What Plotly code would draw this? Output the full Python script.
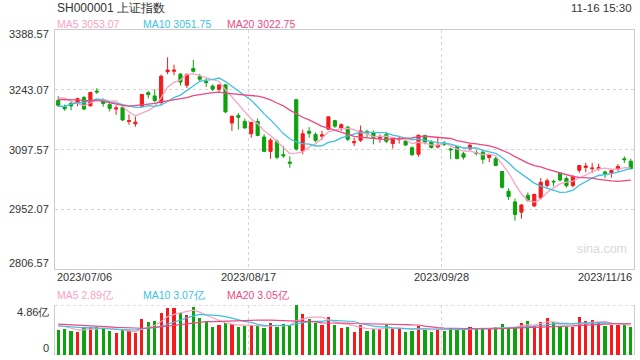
import plotly.graph_objects as go
import pandas as pd

# ---------------- data ----------------
dates = [
    "2023/07/06", "2023/07/07", "2023/07/10", "2023/07/11", "2023/07/12", "2023/07/13", "2023/07/14",
    "2023/07/17", "2023/07/18", "2023/07/19", "2023/07/20", "2023/07/21", "2023/07/24", "2023/07/25",
    "2023/07/26", "2023/07/27", "2023/07/28", "2023/07/31", "2023/08/01", "2023/08/02", "2023/08/03",
    "2023/08/04", "2023/08/07", "2023/08/08", "2023/08/09", "2023/08/10", "2023/08/11", "2023/08/14",
    "2023/08/15", "2023/08/16", "2023/08/17", "2023/08/18", "2023/08/21", "2023/08/22", "2023/08/23",
    "2023/08/24", "2023/08/25", "2023/08/28", "2023/08/29", "2023/08/30", "2023/08/31", "2023/09/01",
    "2023/09/04", "2023/09/05", "2023/09/06", "2023/09/07", "2023/09/08", "2023/09/11", "2023/09/12",
    "2023/09/13", "2023/09/14", "2023/09/15", "2023/09/18", "2023/09/19", "2023/09/20", "2023/09/21",
    "2023/09/22", "2023/09/25", "2023/09/26", "2023/09/27", "2023/09/28", "2023/10/09", "2023/10/10",
    "2023/10/11", "2023/10/12", "2023/10/13", "2023/10/16", "2023/10/17", "2023/10/18", "2023/10/19",
    "2023/10/20", "2023/10/23", "2023/10/24", "2023/10/25", "2023/10/26", "2023/10/27", "2023/10/30",
    "2023/10/31", "2023/11/01", "2023/11/02", "2023/11/03", "2023/11/06", "2023/11/07", "2023/11/08",
    "2023/11/09", "2023/11/10", "2023/11/13", "2023/11/14", "2023/11/15", "2023/11/16",
]

opens = [
    3217, 3202, 3210, 3210, 3224, 3204, 3240, 3217, 3207, 3196,
    3200, 3166, 3160, 3203, 3236, 3228, 3212, 3287, 3288, 3281,
    3254, 3295, 3275, 3263, 3252, 3244, 3255, 3162, 3180, 3166,
    3136, 3166, 3128, 3093, 3117, 3085, 3067, 3219, 3094, 3142,
    3134, 3130, 3147, 3168, 3150, 3152, 3114, 3120, 3141, 3138,
    3125, 3134, 3112, 3122, 3118, 3102, 3086, 3132, 3116, 3104,
    3114, 3099, 3105, 3087, 3099, 3090, 3091, 3078, 3075, 3044,
    2996, 2970, 2945, 2986, 2960, 2980, 3010, 3020, 3040, 3027,
    3010, 3047, 3054, 3051, 3051, 3043, 3041, 3049, 3075, 3069,
]
highs = [
    3228, 3207, 3215, 3224, 3228, 3238, 3247, 3222, 3212, 3205,
    3205, 3183, 3178, 3233, 3240, 3244, 3280, 3322, 3304, 3284,
    3283, 3316, 3282, 3271, 3256, 3256, 3256, 3180, 3186, 3173,
    3165, 3173, 3135, 3125, 3122, 3106, 3081, 3220, 3146, 3152,
    3139, 3143, 3178, 3170, 3161, 3155, 3126, 3156, 3146, 3144,
    3134, 3140, 3128, 3130, 3122, 3105, 3133, 3133, 3120, 3126,
    3118, 3102, 3106, 3092, 3112, 3096, 3095, 3085, 3080, 3045,
    3003, 2978, 2965, 2993, 2990, 3028, 3027, 3024, 3042, 3032,
    3036, 3060, 3065, 3065, 3063, 3046, 3048, 3062, 3081, 3075,
]
lows = [
    3201, 3192, 3193, 3203, 3193, 3202, 3233, 3202, 3190, 3182,
    3167, 3158, 3153, 3200, 3222, 3212, 3205, 3281, 3279, 3253,
    3247, 3285, 3262, 3250, 3240, 3235, 3186, 3143, 3146, 3148,
    3126, 3130, 3091, 3075, 3074, 3077, 3053, 3095, 3086, 3126,
    3115, 3121, 3145, 3150, 3143, 3118, 3106, 3116, 3126, 3110,
    3114, 3113, 3100, 3112, 3106, 3082, 3080, 3110, 3100, 3100,
    3106, 3074, 3074, 3073, 3097, 3083, 3063, 3067, 3057, 3003,
    2975, 2924, 2929, 2970, 2958, 2977, 3005, 3008, 3020, 3005,
    3005, 3041, 3042, 3040, 3046, 3028, 3029, 3044, 3065, 3049,
]
closes = [
    3205.23, 3196.61, 3203.70, 3221.37, 3196.13, 3236.48, 3237.70, 3209.63, 3197.82, 3198.84,
    3169.52, 3167.75, 3164.16, 3231.52, 3231.29, 3216.67, 3275.93, 3291.04, 3290.95, 3261.69,
    3280.46, 3288.08, 3268.83, 3260.62, 3244.49, 3254.56, 3189.25, 3178.43, 3176.18, 3150.13,
    3163.74, 3131.95, 3092.98, 3120.33, 3078.40, 3082.24, 3064.07, 3098.64, 3135.89, 3137.14,
    3119.88, 3133.25, 3177.06, 3154.37, 3158.08, 3122.35, 3116.72, 3142.78, 3137.06, 3126.30,
    3126.55, 3117.74, 3125.93, 3124.25, 3108.57, 3084.70, 3132.43, 3115.61, 3102.27, 3107.32,
    3110.48, 3096.92, 3075.24, 3078.96, 3107.90, 3088.10, 3073.81, 3083.50, 3058.71, 3005.39,
    2983.06, 2939.29, 2962.24, 2974.11, 2988.30, 3017.78, 3021.55, 3018.77, 3023.08, 3009.41,
    3030.80, 3058.41, 3057.27, 3052.37, 3053.28, 3038.97, 3046.53, 3056.07, 3072.83, 3050.93,
]
# volume, in 亿
volumes = [
    2.43, 2.53, 2.33, 2.24, 2.72, 2.72, 2.72, 2.53, 2.33, 2.14,
    2.43, 2.33, 2.14, 3.50, 3.21, 3.30, 4.08, 4.57, 4.57, 4.08,
    3.89, 4.67, 3.60, 3.21, 2.72, 2.92, 3.11, 3.01, 2.72, 2.82,
    2.92, 2.82, 2.62, 3.11, 2.72, 3.01, 2.92, 4.86, 3.98, 3.50,
    3.11, 2.92, 3.69, 2.92, 2.62, 2.72, 2.24, 2.92, 2.33, 2.53,
    2.53, 2.92, 2.62, 2.53, 2.24, 2.33, 2.82, 2.53, 2.24, 2.53,
    2.33, 2.62, 2.53, 2.53, 2.72, 2.53, 2.62, 2.53, 2.72, 3.01,
    2.62, 2.72, 3.11, 3.30, 2.82, 3.21, 3.60, 3.21, 2.82, 2.72,
    2.72, 3.69, 3.30, 3.40, 3.11, 2.82, 2.92, 2.92, 3.01, 2.72,
]
# 19 sessions before the window (needed for the moving averages)
prior_closes = [
    3197.76, 3213.59, 3231.41, 3228.83, 3233.67, 3228.99, 3252.98, 3273.33, 3255.81, 3240.36,
    3197.90, 3150.62, 3189.38, 3189.44, 3182.38, 3202.06, 3243.98, 3245.35, 3222.95,
]
prior_volumes = [
    3.10, 3.30, 3.00, 2.80, 3.20, 3.00, 3.40, 3.60, 3.20, 3.00,
    3.10, 3.20, 2.80, 2.70, 2.60, 2.70, 3.20, 3.00, 2.70,
]

price_ticks = [2806.57, 2952.07, 3097.57, 3243.07, 3388.57]
vol_ticks = [0, 4.86]
vol_tick_text = ["0", "4.86亿"]
date_ticks = ["2023/07/06", "2023/08/17", "2023/09/28", "2023/11/16"]
ma_periods = [5, 10, 20]
price_ma_text = ["MA5 3053.07", "MA10 3051.75", "MA20 3022.75"]
vol_ma_text = ["MA5 2.89亿", "MA10 3.07亿", "MA20 3.05亿"]
title_text = "SH000001 上证指数"
time_text = "11-16 15:30"
watermark = "sina.com"

# ---------------- style ----------------
W, H = 640, 360
L, R = 55, 634
MAIN_TOP, MAIN_BOT = 30, 269
VOL_TOP, VOL_BOT = 305, 355
RED = "#f31b1b"
GREEN = "#0ea20e"
MA_COLORS = ["#f8a3c3", "#3cc2e2", "#ec4a83"]
FONT = "Liberation Sans, Arial, Helvetica, sans-serif"
TXT = "#333333"
BORDER = "#cccccc"
GRID = "#d4d4d4"

def px(xp):
    return xp / W

def py(yp):
    return 1 - yp / H

n = len(closes)
xs = list(range(n))

fig = go.Figure()

fig.add_trace(go.Candlestick(
    x=xs, open=opens, high=highs, low=lows, close=closes,
    increasing=dict(line=dict(color=RED, width=1), fillcolor=RED),
    decreasing=dict(line=dict(color=GREEN, width=1), fillcolor=GREEN),
    whiskerwidth=0, xaxis="x", yaxis="y", hoverinfo="skip", showlegend=False,
))

all_closes = pd.Series(prior_closes + closes)
for p, c in zip(ma_periods, MA_COLORS):
    ma = all_closes.rolling(p).mean().iloc[len(prior_closes):].tolist()
    fig.add_trace(go.Scatter(x=xs, y=ma, mode="lines", line=dict(color=c, width=1.3),
                             xaxis="x", yaxis="y", hoverinfo="skip", showlegend=False))

bar_colors = [RED if c > o else GREEN for o, c in zip(opens, closes)]
fig.add_trace(go.Bar(x=xs, y=volumes, marker=dict(color=bar_colors, line=dict(width=0)),
                     width=0.5, xaxis="x2", yaxis="y2", hoverinfo="skip", showlegend=False))

all_vol = pd.Series(prior_volumes + volumes)
for p, c in zip(ma_periods, MA_COLORS):
    ma = all_vol.rolling(p).mean().iloc[len(prior_volumes):].tolist()
    fig.add_trace(go.Scatter(x=xs, y=ma, mode="lines", line=dict(color=c, width=1.2),
                             xaxis="x2", yaxis="y2", hoverinfo="skip", showlegend=False))

xr = [-0.5, n - 0.5]
sep_idx = [dates.index(d) - 0.5 for d in date_ticks[1:3]]

common_x = dict(range=xr, tickvals=sep_idx, showticklabels=False, ticks="",
                showgrid=True, gridcolor=GRID, griddash="dot", gridwidth=1,
                zeroline=False, fixedrange=True, domain=[px(L), px(R)])

fig.update_layout(
    width=W, height=H,
    margin=dict(l=0, r=0, t=0, b=0),
    paper_bgcolor="white", plot_bgcolor="white",
    showlegend=False,
    xaxis=dict(**common_x, anchor="y", rangeslider=dict(visible=False),
               showline=True, mirror=True, linecolor=BORDER, linewidth=1),
    yaxis=dict(domain=[py(MAIN_BOT), py(MAIN_TOP)], range=[price_ticks[0], price_ticks[-1]],
               tickvals=price_ticks[1:-1], showticklabels=False, ticks="",
               showgrid=True, gridcolor=GRID, griddash="dot", gridwidth=1,
               zeroline=False, showline=True, mirror=True, linecolor=BORDER, linewidth=1,
               fixedrange=True, anchor="x"),
    xaxis2=dict(**common_x, anchor="y2", showline=False),
    yaxis2=dict(domain=[py(VOL_BOT), py(VOL_TOP)], range=[vol_ticks[0], vol_ticks[-1]],
                showticklabels=False, ticks="", showgrid=False, zeroline=False,
                showline=True, mirror=True, linecolor=BORDER, linewidth=1,
                fixedrange=True, anchor="x2"),
    bargap=0,
)

# dotted top/bottom border of the volume panel
for v in vol_ticks:
    fig.add_shape(type="line", xref="paper", yref="y2", x0=px(L), x1=px(R), y0=v, y1=v,
                  line=dict(color=GRID, width=1.5, dash="dot"), layer="below")

ann = []

def text(t, x, y, size, color=TXT, xanchor="left", xref="paper", yref="paper", yshift=0):
    ann.append(dict(text=t, x=x, y=y, xref=xref, yref=yref, xanchor=xanchor, yanchor="middle",
                    showarrow=False, yshift=yshift, font=dict(family=FONT, size=size, color=color)))

text(title_text, px(L), py(8), 12)
text(time_text, px(R), py(8), 11.5, xanchor="right")

ma_label_x = [55, 140.7, 225.3]
for t, c, xl in zip(price_ma_text, MA_COLORS, ma_label_x):
    text(t, px(xl), py(24), 10.5, color=c)
for t, c, xl in zip(vol_ma_text, MA_COLORS, ma_label_x):
    text(t, px(xl), py(295), 10.5, color=c)

# price tick labels
for i, v in enumerate(price_ticks):
    shift = 0
    if i == 0:
        shift = 6
    elif i == len(price_ticks) - 1:
        shift = -4
    text(f"{v:.2f}", px(51), v, 11, xanchor="right", yref="y", yshift=shift)

# volume tick labels
text(vol_tick_text[1], px(51), vol_ticks[1], 11, xanchor="right", yref="y2", yshift=-7)
text(vol_tick_text[0], px(51), vol_ticks[0], 11, xanchor="right", yref="y2", yshift=7)

# date labels
anchors = ["left", "center", "center", "right"]
for d, a in zip(date_ticks, anchors):
    i = dates.index(d)
    xv = i - 0.5 if a != "right" else i + 0.5
    text(d, xv, py(277), 11, xanchor=a, xref="x")

text(watermark, px(602), py(249), 12.5, color="#d9d9d9", xanchor="center")

fig.update_layout(annotations=ann)

fig.write_html("out.html", config={"displayModeBar": False, "staticPlot": True},
               post_script="document.body.style.margin='0';document.body.style.overflow='hidden';")
